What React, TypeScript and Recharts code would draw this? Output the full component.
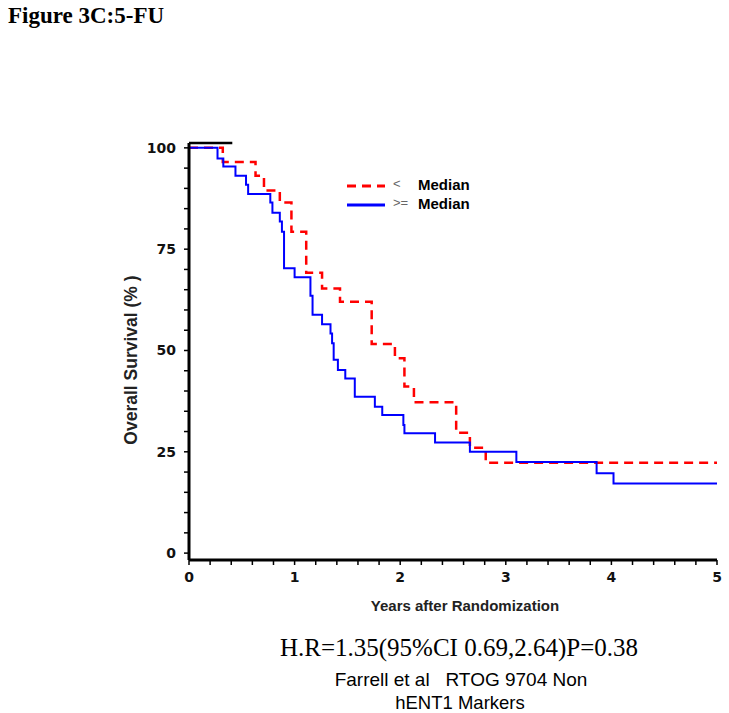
import { LineChart, Line, XAxis, YAxis, ReferenceLine } from 'recharts';

// Kaplan-Meier steps (years, % surviving)
const belowTimes = [0, 0.32, 0.63, 0.71, 0.86, 0.97, 1.11, 1.26, 1.43, 1.73, 1.95, 2.04, 2.13, 2.53, 2.66, 2.81, 5.0];
const belowSurv = [100, 96.5, 93.1, 89.5, 86.5, 79.3, 69.2, 65.3, 62.0, 51.6, 48.1, 41.1, 37.2, 29.7, 26.0, 22.3, 22.3];

const aboveTimes = [0, 0.27, 0.325, 0.44, 0.54, 0.56, 0.77, 0.79, 0.86, 0.88, 0.9, 1.0, 1.15, 1.17, 1.26, 1.34, 1.355, 1.37, 1.41, 1.48, 1.57, 1.76, 1.83, 2.03, 2.04, 2.33, 2.66, 3.1, 3.86, 4.02, 5.0];
const aboveSurv = [100, 97.4, 95.4, 93.1, 90.9, 88.6, 86.5, 84.0, 81.8, 79.3, 70.3, 68.1, 63.5, 58.8, 56.5, 54.2, 51.8, 47.7, 45.2, 43.1, 38.6, 36.1, 34.1, 31.6, 29.6, 27.3, 25.0, 22.5, 19.7, 17.2, 17.2];

const yTicks = [0, 5, 10, 15, 20, 25, 30, 35, 40, 45, 50, 55, 60, 65, 70, 75, 80, 85, 90, 95, 100];
const yLabelled = [0, 25, 50, 75, 100];
const xTicks = Array.from({ length: 26 }, (_, i) => i / 5);
const xLabelled = [0, 1, 2, 3, 4, 5];

const below = belowTimes.map((t, i) => ({ t, s: belowSurv[i] }));
const above = aboveTimes.map((t, i) => ({ t, s: aboveSurv[i] }));

const SANS = '"Liberation Sans", Arial, sans-serif';
const HEAVY = '"DejaVu Sans", "Liberation Sans", sans-serif';
const SERIF = '"Liberation Serif", "Times New Roman", serif';

function YTick({ x, y, payload }: any) {
  if (!yLabelled.includes(payload.value)) return null;
  return (
    <text x={x - 6} y={y} dy={5} textAnchor="end" fontFamily={HEAVY} fontWeight={700} fontSize={14} fill="#111">
      {payload.value}
    </text>
  );
}

function XTick({ x, y, payload }: any) {
  const v = payload.value;
  if (!xLabelled.some(k => Math.abs(k - v) < 1e-6)) return null;
  return (
    <text x={x} y={y} dy={15} textAnchor="middle" fontFamily={HEAVY} fontWeight={700} fontSize={14} fill="#111">
      {Math.round(v)}
    </text>
  );
}

export default function App() {
  return (
    <div style={{ position: 'absolute', left: 0, top: 0, width: 729, height: 713, background: '#fff' }}>
      <div style={{ position: 'absolute', left: 8, top: 3, fontFamily: SERIF, fontWeight: 700, fontSize: 23, color: '#000' }}>
        Figure 3C:5-FU
      </div>

      <div style={{ position: 'absolute', left: 0, top: 0 }}>
        <LineChart width={729} height={713} margin={{ top: 143, right: 12, bottom: 123, left: 129 }}>
          <XAxis
            type="number"
            dataKey="t"
            domain={[0, 5]}
            ticks={xTicks}
            interval={0}
            tick={<XTick />}
            tickSize={5}
            height={30}
            axisLine={{ stroke: '#000', strokeWidth: 3 }}
            tickLine={{ stroke: '#000', strokeWidth: 1.5 }}
            allowDataOverflow
          />
          <YAxis
            type="number"
            dataKey="s"
            domain={[-1.7, 101.2]}
            ticks={yTicks}
            interval={0}
            tick={<YTick />}
            tickSize={5}
            width={60}
            axisLine={{ stroke: '#000', strokeWidth: 3 }}
            tickLine={{ stroke: '#000', strokeWidth: 1.5 }}
            allowDataOverflow
          />
          <ReferenceLine
            segment={[{ x: 0, y: 101.2 }, { x: 0.41, y: 101.2 }]}
            stroke="#000"
            strokeWidth={2.5}
          />
          <Line
            data={below}
            dataKey="s"
            type="stepAfter"
            stroke="#ff0000"
            strokeWidth={2.5}
            strokeDasharray="9 6"
            dot={false}
            isAnimationActive={false}
          />
          <Line
            data={above}
            dataKey="s"
            type="stepAfter"
            stroke="#0000ff"
            strokeWidth={2}
            dot={false}
            isAnimationActive={false}
          />
        </LineChart>
      </div>

      {/* axis titles */}
      <div
        style={{
          position: 'absolute', left: 131, top: 360, transform: 'translate(-50%, -50%) rotate(-90deg)',
          fontFamily: SANS, fontWeight: 700, fontSize: 17.5, color: '#222', whiteSpace: 'nowrap',
        }}
      >
        Overall Survival (% )
      </div>
      <div
        style={{
          position: 'absolute', left: 465, top: 605, transform: 'translate(-50%, -50%)',
          fontFamily: SANS, fontWeight: 700, fontSize: 15, color: '#222', whiteSpace: 'nowrap',
        }}
      >
        Years after Randomization
      </div>

      {/* legend */}
      <svg style={{ position: 'absolute', left: 340, top: 178 }} width={60} height={34}>
        <line x1={7} y1={8} x2={45} y2={8} stroke="#ff0000" strokeWidth={3} strokeDasharray="9 6" />
        <line x1={7} y1={27} x2={45} y2={27} stroke="#0000ff" strokeWidth={3} />
      </svg>
      <div style={{ position: 'absolute', left: 393, top: 176, fontFamily: SANS, fontSize: 13, color: '#666' }}>&lt;</div>
      <div style={{ position: 'absolute', left: 393, top: 195, fontFamily: SANS, fontSize: 13, color: '#666' }}>&gt;=</div>
      <div style={{ position: 'absolute', left: 418, top: 176, fontFamily: SANS, fontWeight: 700, fontSize: 15, color: '#000' }}>Median</div>
      <div style={{ position: 'absolute', left: 418, top: 195, fontFamily: SANS, fontWeight: 700, fontSize: 15, color: '#000' }}>Median</div>

      {/* footnote */}
      <div
        style={{
          position: 'absolute', left: 459, top: 648, transform: 'translate(-50%, -50%)',
          fontFamily: SERIF, fontSize: 25, color: '#000', whiteSpace: 'nowrap',
        }}
      >
        H.R=1.35(95%CI 0.69,2.64)P=0.38
      </div>
      <div
        style={{
          position: 'absolute', left: 461, top: 680, transform: 'translate(-50%, -50%)',
          fontFamily: SANS, fontSize: 19, color: '#000', whiteSpace: 'pre',
        }}
      >
        {'Farrell et al   RTOG 9704 Non'}
      </div>
      <div
        style={{
          position: 'absolute', left: 460, top: 703, transform: 'translate(-50%, -50%)',
          fontFamily: SANS, fontSize: 18.5, color: '#000', whiteSpace: 'nowrap',
        }}
      >
        hENT1 Markers
      </div>
    </div>
  );
}
